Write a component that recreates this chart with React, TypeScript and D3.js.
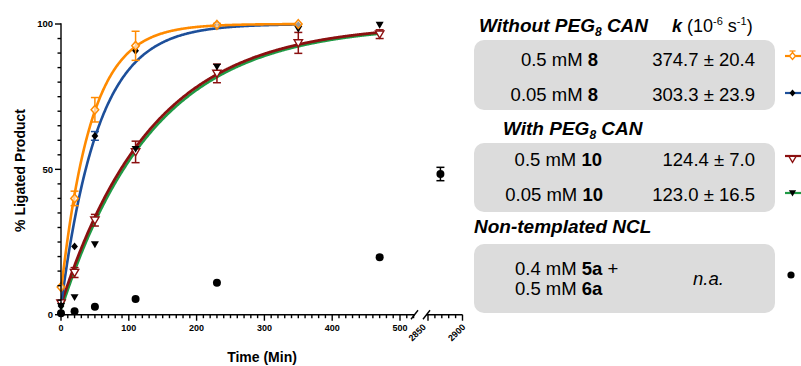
import React from "react";
import * as d3 from "d3";

// ---- data ----
const timesA = [0, 20, 50, 110, 230, 350];
const timesB = [0, 20, 50, 110, 230, 350, 470];
const orangeY = [9.5, 40, 70.5, 92.5, 99.7, 100];
const orangeErr = [0, 2.5, 4.2, 5, 0.5, 0];
const blueY = [3, 23.5, 61.5, 90.8, 99.5, 99.6];
const blueErr = [0, 0, 1.5, 0, 0, 0];
const redY = [4, 14.5, 32.5, 56, 83, 93.5, 96.5];
const redErr = [0, 1.7, 2, 3.7, 3.2, 3.6, 1.5];
const greenY = [3, 6, 24.2, 57, 85.3, 98.3, 99.7];
const ncTimes = [0, 20, 50, 110, 230, 470, 2868];
const ncY = [0.5, 1.2, 2.7, 5.4, 11, 19.8, 48.4];
const ncErr = [0, 0, 0, 0, 0, 0, 2.3];

// fitted rate constants (10^-6 s^-1) and fit starting offsets
const kValues = [374.7, 303.3, 124.4, 123.0];
const fitStart = [8, 3, 3.5, 2.5];
const fitEnd = [350, 350, 470, 470];

const xTicks1 = [0, 100, 200, 300, 400, 500];
const xTicks2 = [2850, 2900];
const yTicks = [0, 50, 100];

const C = {
  orange: "#FF8A00",
  blue: "#1D4F9A",
  red: "#8B1010",
  green: "#1F9A45",
  box: "#DCDCDC",
};
const FONT = "'Liberation Sans', Arial, Helvetica, sans-serif";

const x1 = d3.scaleLinear().domain([0, 500]).range([61, 400]);
const x2 = d3.scaleLinear().domain([2850, 2900]).range([428, 462.5]);
const y = d3.scaleLinear().domain([0, 100]).range([314.7, 24]);
const xPos = (t: number) => (t < 1000 ? x1(t) : x2(t));

function fitPath(i: number) {
  const k = (kValues[i] * 1e-6) * 60;
  const y0 = fitStart[i];
  const pts = d3.range(0, fitEnd[i] + 0.01, 1).map((t) => [t, y0 + (100 - y0) * (1 - Math.exp(-k * t))] as [number, number]);
  return d3.line<[number, number]>().x((d) => x1(d[0])).y((d) => y(d[1])).curve(d3.curveMonotoneX)(pts) || "";
}

const diamond = (cx: number, cy: number, r: number) => `M${cx},${cy - r * 1.15}L${cx + r},${cy}L${cx},${cy + r * 1.15}L${cx - r},${cy}Z`;
const triDown = (cx: number, cy: number, r: number) => `M${cx - r},${cy - r * 0.75}L${cx + r},${cy - r * 0.75}L${cx},${cy + r * 0.95}Z`;

function ErrBars({ ts, vals, errs, color }: { ts: number[]; vals: number[]; errs: number[]; color: string }) {
  return (
    <g stroke={color} strokeWidth={1.5} fill="none">
      {ts.map((t, i) =>
        errs[i] > 0 ? (
          <g key={i}>
            <line x1={xPos(t)} x2={xPos(t)} y1={y(vals[i] + errs[i])} y2={y(vals[i] - errs[i])} />
            <line x1={xPos(t) - 4} x2={xPos(t) + 4} y1={y(vals[i] + errs[i])} y2={y(vals[i] + errs[i])} />
            <line x1={xPos(t) - 4} x2={xPos(t) + 4} y1={y(vals[i] - errs[i])} y2={y(vals[i] - errs[i])} />
          </g>
        ) : null
      )}
    </g>
  );
}

export default function App() {
  const minorY = d3.range(0, 101, 5);
  const minorX1 = d3.range(0, 521, 10);
  const minorX2 = d3.range(2850, 2901, 10);
  const axisY = y(0);

  return (
    <svg width={801} height={366} style={{ position: "absolute", left: 0, top: 0, background: "#fff" }} fontFamily={FONT}>
      {/* fit curves */}
      <path d={fitPath(3)} fill="none" stroke={C.green} strokeWidth={2.6} transform="translate(0.6,0.8)" />
      <path d={fitPath(2)} fill="none" stroke={C.red} strokeWidth={2.8} />
      <path d={fitPath(1)} fill="none" stroke={C.blue} strokeWidth={2.6} />
      <path d={fitPath(0)} fill="none" stroke={C.orange} strokeWidth={2.6} />

      {/* red: open down triangles */}
      <ErrBars ts={timesB} vals={redY} errs={redErr} color={C.red} />
      {timesB.map((t, i) => (
        <path key={"r" + i} d={triDown(x1(t), y(redY[i]), 4.2)} fill="#fff" stroke={C.red} strokeWidth={1.4} />
      ))}
      {/* green: black filled down triangles */}
      {timesB.map((t, i) => (
        <path key={"g" + i} d={triDown(x1(t), y(greenY[i]), 4)} fill="#000" />
      ))}
      {/* blue: black diamonds */}
      <ErrBars ts={timesA} vals={blueY} errs={blueErr} color={C.blue} />
      {timesA.map((t, i) => (
        <path key={"b" + i} d={diamond(x1(t), y(blueY[i]), 3.4)} fill="#000" />
      ))}
      {/* orange: open diamonds */}
      <ErrBars ts={timesA} vals={orangeY} errs={orangeErr} color={C.orange} />
      {timesA.map((t, i) => (
        <path key={"o" + i} d={diamond(x1(t), y(orangeY[i]), 3.8)} fill="#fff" fillOpacity={0.6} stroke={C.orange} strokeWidth={1.5} />
      ))}
      {/* non-templated: black circles */}
      <ErrBars ts={ncTimes} vals={ncY} errs={ncErr} color="#000" />
      {ncTimes.map((t, i) => (
        <circle key={"n" + i} cx={xPos(t)} cy={y(ncY[i])} r={4} fill="#000" />
      ))}

      {/* y axis */}
      <g stroke="#000" strokeWidth={1.4}>
        <line x1={61} x2={61} y1={y(100) - 0.7} y2={axisY + 0.7} />
        {minorY.map((v) => (
          <line key={v} x1={v % 50 === 0 ? 55 : 57.5} x2={61} y1={y(v)} y2={y(v)} />
        ))}
      </g>
      {yTicks.map((v) => (
        <text key={v} x={53} y={y(v) + 3.4} textAnchor="end" fontSize={9.5} fontWeight="bold">
          {v}
        </text>
      ))}

      {/* x axis segment 1 */}
      <g stroke="#000" strokeWidth={1.4}>
        <line x1={61} x2={415} y1={axisY} y2={axisY} />
        {minorX1.map((v) => (
          <line key={v} x1={x1(v)} x2={x1(v)} y1={axisY} y2={axisY + (v % 100 === 0 ? 6 : 3.5)} />
        ))}
        <line x1={411} x2={418} y1={axisY + 4.5} y2={axisY - 4.5} />
        {/* segment 2 */}
        <line x1={426} x2={x2(2900)} y1={axisY} y2={axisY} />
        {minorX2.map((v) => (
          <line key={v} x1={x2(v)} x2={x2(v)} y1={axisY} y2={axisY + (v % 50 === 0 ? 6 : 3.5)} />
        ))}
        <line x1={423} x2={430} y1={axisY + 4.5} y2={axisY - 4.5} />
      </g>
      {xTicks1.map((v) => (
        <text key={v} x={x1(v)} y={axisY + 16} textAnchor="middle" fontSize={9} fontWeight="bold">
          {v}
        </text>
      ))}
      {xTicks2.map((v) => {
        const ax = x2(v) + (v === 2900 ? 3.5 : -1.5);
        const ay = axisY + 13;
        return (
          <text key={v} x={ax} y={ay} textAnchor="end" fontSize={9} fontWeight="bold" transform={`rotate(-45 ${ax} ${ay})`}>
            {v}
          </text>
        );
      })}

      {/* axis titles */}
      <text x={262} y={361.5} textAnchor="middle" fontSize={14} fontWeight="bold">
        Time (Min)
      </text>
      <text transform="translate(25,170.5) rotate(-90)" textAnchor="middle" fontSize={14} fontWeight="bold">
        % Ligated Product
      </text>

      {/* ---- right-side table ---- */}
      <text x={479} y={31.5} fontSize={19} fontWeight="bold" fontStyle="italic">
        Without PEG<tspan fontSize={12} dy={4}>8</tspan>
        <tspan dy={-4}> CAN</tspan>
      </text>
      <text x={672} y={31.5} fontSize={18} >
        <tspan fontWeight="bold" fontStyle="italic">k</tspan> (10<tspan fontSize={11} dy={-7}>-6</tspan>
        <tspan dy={7}> s</tspan><tspan fontSize={11} dy={-7}>-1</tspan><tspan dy={7}>)</tspan>
      </text>

      <rect x={474} y={40} width={301} height={70} rx={10} fill={C.box} />
      <text x={598} y={65.5} textAnchor="end" fontSize={18.5}>0.5 mM <tspan fontWeight="bold">8</tspan></text>
      <text x={755} y={65.5} textAnchor="end" fontSize={18.5}>374.7 ± 20.4</text>
      <text x={598} y={100.5} textAnchor="end" fontSize={18.5}>0.05 mM <tspan fontWeight="bold">8</tspan></text>
      <text x={755} y={100.5} textAnchor="end" fontSize={18.5}>303.3 ± 23.9</text>

      <text x={503} y={134.5} fontSize={19} fontWeight="bold" fontStyle="italic">
        With PEG<tspan fontSize={12} dy={4}>8</tspan>
        <tspan dy={-4}> CAN</tspan>
      </text>
      <rect x={474} y={143} width={301} height={69} rx={10} fill={C.box} />
      <text x={602} y={165.5} textAnchor="end" fontSize={18.5}>0.5 mM <tspan fontWeight="bold">10</tspan></text>
      <text x={755} y={165.5} textAnchor="end" fontSize={18.5}>124.4 ± 7.0</text>
      <text x={603} y={201} textAnchor="end" fontSize={18.5}>0.05 mM <tspan fontWeight="bold">10</tspan></text>
      <text x={755} y={201} textAnchor="end" fontSize={18.5}>123.0 ± 16.5</text>

      <text x={474} y={233} fontSize={19} fontWeight="bold" fontStyle="italic">Non-templated NCL</text>
      <rect x={474} y={244} width={301} height={69} rx={10} fill={C.box} />
      <text x={515} y={275} fontSize={18.5}>0.4 mM <tspan fontWeight="bold">5a</tspan> +</text>
      <text x={515} y={295} fontSize={18.5}>0.5 mM <tspan fontWeight="bold">6a</tspan></text>
      <text x={693} y={284.5} fontSize={18.5} fontStyle="italic">n.a.</text>

      {/* legend glyphs */}
      <g>
        <line x1={785} x2={801} y1={56} y2={56} stroke={C.orange} strokeWidth={2.2} />
        <line x1={792.5} x2={792.5} y1={51} y2={56} stroke={C.orange} strokeWidth={1.2} />
        <line x1={789.5} x2={795.5} y1={51} y2={51} stroke={C.orange} strokeWidth={1.2} />
        <path d={diamond(792.5, 56, 3)} fill="#fff" stroke={C.orange} strokeWidth={1.3} />

        <line x1={785} x2={801} y1={93} y2={93} stroke={C.blue} strokeWidth={2.2} />
        <path d={diamond(792.5, 93, 3)} fill="#000" />

        <line x1={785} x2={801} y1={156} y2={156} stroke={C.red} strokeWidth={2.2} />
        <path d={triDown(792.5, 159, 3.6)} fill="#fff" stroke={C.red} strokeWidth={1.3} />

        <line x1={785} x2={801} y1={193} y2={193} stroke={C.green} strokeWidth={2.2} />
        <path d={triDown(792.5, 193, 3.6)} fill="#000" />

        <circle cx={791} cy={275} r={3.6} fill="#000" />
      </g>
    </svg>
  );
}
